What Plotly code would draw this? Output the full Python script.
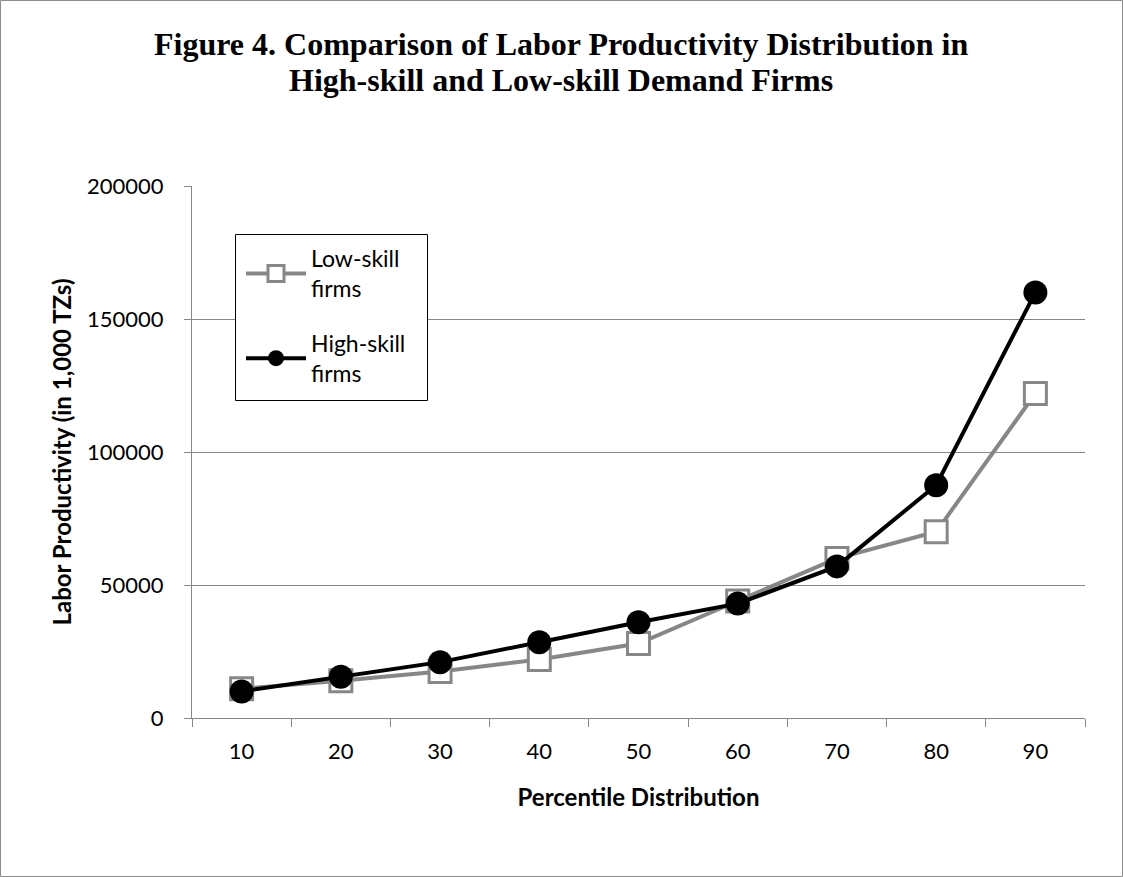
import plotly.graph_objects as go

# Percentile categories and labor productivity (in 1,000 TZs)
percentiles = ["10", "20", "30", "40", "50", "60", "70", "80", "90"]
low_skill = [11000, 14000, 17500, 22000, 28000, 44000, 60000, 70000, 122000]
high_skill = [10000, 15500, 21000, 28500, 36000, 43000, 57000, 87500, 160000]

W, H = 1123, 877
L, R, T, B = 192, 38, 186, 159
pw, ph = W - L - R, H - T - B

grid = "#868686"
txt_font = "Lato, 'Open Sans', sans-serif"
title_font = "'Liberation Serif', 'Times New Roman', serif"


def px_y(y):
    """Convert a pixel row from the top of the page to paper y."""
    return (H - B - y) / ph


def px_x(x):
    """Convert a pixel column from the left of the page to paper x."""
    return (x - L) / pw


fig = go.Figure()
fig.add_trace(go.Scatter(
    x=percentiles, y=low_skill, name="Low-skill<br>firms",
    legendgroup="low", mode="lines+markers",
    line=dict(color="#878787", width=4),
    marker=dict(symbol="square", size=22, color="white",
                line=dict(color="#878787", width=3)),
))
fig.add_trace(go.Scatter(
    x=percentiles, y=high_skill, name="High-skill<br>firms",
    legendgroup="high", mode="lines+markers",
    line=dict(color="black", width=4),
    marker=dict(symbol="circle", size=24, color="black"),
))

fig.update_layout(
    width=W, height=H,
    margin=dict(l=L, r=R, t=T, b=B),
    paper_bgcolor="white", plot_bgcolor="white",
    font=dict(family=txt_font, size=22, color="black"),
    showlegend=True,
    legend=dict(
        x=px_x(241), y=px_y(237),
        xanchor="left", yanchor="top",
        borderwidth=0, bgcolor="rgba(0,0,0,0)",
        font=dict(size=23, family=txt_font),
        traceorder="grouped", tracegroupgap=22,
        itemwidth=60,
    ),
    xaxis=dict(
        type="category", range=[-0.5, 8.5],
        tickson="boundaries", ticks="outside", ticklen=8, tickcolor=grid,
        showline=True, linecolor=grid, linewidth=1,
        showgrid=False,
        tickfont=dict(size=22), ticklabelstandoff=14,
        title=dict(text="<b>Percentile Distribution</b>", font=dict(size=24), standoff=25),
    ),
    yaxis=dict(
        range=[0, 200000], dtick=50000, tickformat="d",
        ticks="outside", ticklen=7, tickcolor=grid,
        showline=True, linecolor=grid, linewidth=1,
        showgrid=True, gridcolor=grid, gridwidth=1,
        zeroline=False,
        tickfont=dict(size=22), ticklabelstandoff=16,
        title=dict(text="<b>Labor Productivity (in 1,000 TZs)</b>", font=dict(size=24), standoff=8),
    ),
    annotations=[
        dict(text="<b>Figure 4. Comparison of Labor Productivity Distribution in</b>",
             xref="paper", yref="paper", x=px_x(561), y=px_y(44),
             xanchor="center", yanchor="middle", showarrow=False,
             font=dict(family=title_font, size=32, color="black")),
        dict(text="<b>High-skill and Low-skill Demand Firms</b>",
             xref="paper", yref="paper", x=px_x(561), y=px_y(80),
             xanchor="center", yanchor="middle", showarrow=False,
             font=dict(family=title_font, size=32, color="black")),
    ],
    shapes=[
        # outer frame of the chart
        dict(type="rect", xref="paper", yref="paper",
             x0=px_x(0.5), x1=px_x(W - 0.5),
             y0=px_y(H - 0.5), y1=px_y(0.5),
             line=dict(color="#8c8c8c", width=1), fillcolor="rgba(0,0,0,0)",
             layer="below"),
        # legend box
        dict(type="rect", xref="paper", yref="paper",
             x0=px_x(235.5), x1=px_x(427.5),
             y0=px_y(400.5), y1=px_y(234.5),
             line=dict(color="black", width=1), fillcolor="white",
             layer="above"),
    ],
)

fig.write_html("out.html")
